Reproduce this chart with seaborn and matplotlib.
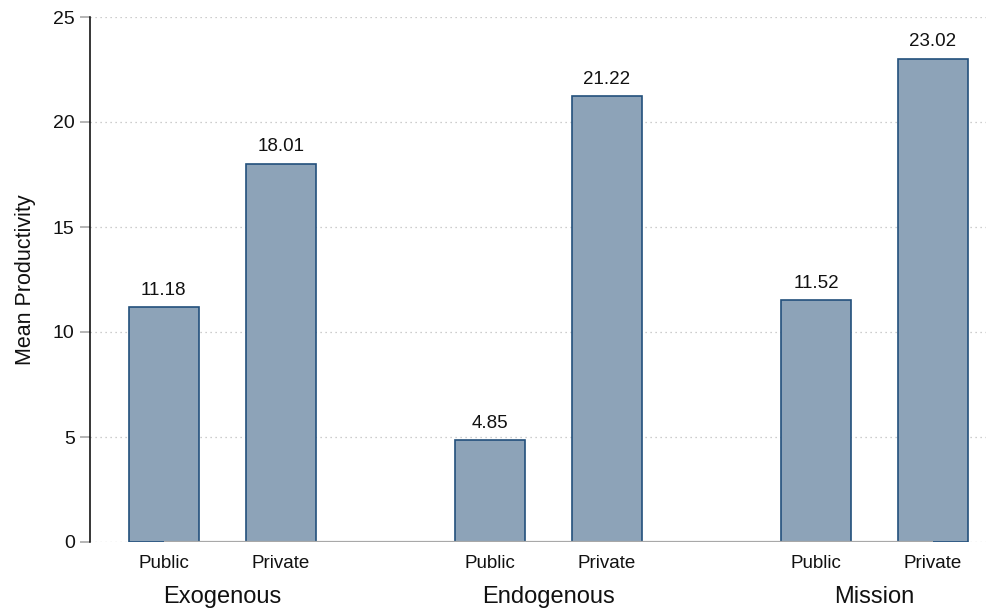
import matplotlib
matplotlib.use("Agg")
import matplotlib.pyplot as plt
import matplotlib.transforms as mtransforms
import seaborn as sns
import pandas as pd

groups = ["Exogenous", "Endogenous", "Mission"]
sectors = ["Public", "Private"]
public_vals = [11.18, 4.85, 11.52]
private_vals = [18.01, 21.22, 23.02]
yticks = [0, 5, 10, 15, 20, 25]

rows = []
for g, pu, pr in zip(groups, public_vals, private_vals):
    rows.append({"group": g, "sector": "Public", "value": pu})
    rows.append({"group": g, "sector": "Private", "value": pr})
df = pd.DataFrame(rows)

sns.set_theme(style="white")
plt.rcParams["font.family"] = ["Liberation Sans", "DejaVu Sans"]

fill = "#8da3b8"
edge = "#23507c"

fig = plt.figure(figsize=(9.87, 6.13), dpi=100)
ax = fig.add_axes([90 / 987, 1 - 542 / 613, 1 - 90 / 987, (542 - 17) / 613])

sns.barplot(data=df, x="group", y="value", hue="sector", order=groups,
            hue_order=sectors, palette=[fill, fill], width=0.718, gap=0.402,
            edgecolor=edge, linewidth=1.2, saturation=1, ax=ax, legend=False,
            errorbar=None, zorder=2)

for cont in ax.containers:
    ax.bar_label(cont, fmt="%.2f", padding=6, fontsize=13.5, color="#111111")

ax.set_ylim(0, 25)
ax.set_xlim(-0.406, 2.345)
ax.set_yticks(yticks)
ax.set_yticklabels([str(t) for t in yticks])
ax.grid(axis="y", linestyle=(0, (1, 3)), color="#bdbdbd", linewidth=0.9, zorder=0)
ax.grid(axis="x", visible=False)

for s in ["top", "right", "bottom"]:
    ax.spines[s].set_visible(False)
ax.spines["left"].set_color("black")
ax.spines["left"].set_linewidth(1.1)

ax.tick_params(axis="y", which="major", left=True, length=7, width=1.1,
               color="#a0a0a0", labelsize=14, pad=4, labelcolor="#111111")

# bar centers from the drawn patches
centers = sorted(p.get_x() + p.get_width() / 2 for p in ax.patches)
labels = sectors * len(groups)
ax.set_xticks(centers)
ax.set_xticklabels(labels, fontsize=13.5, color="#111111")
ax.tick_params(axis="x", length=0, pad=9)
ax.set_xlabel("")

# baseline from first to last bar center
ax.plot([centers[0], centers[-1]], [0, 0], color="#a8a8a8", linewidth=1.6,
        zorder=5, solid_capstyle="butt")

trans = mtransforms.blended_transform_factory(ax.transData, ax.transAxes)
for i, g in enumerate(groups):
    cx = (centers[2 * i] + centers[2 * i + 1]) / 2
    ax.text(cx, -0.105, g, transform=trans, ha="center", va="center",
            fontsize=17, color="#111111")

ax.set_ylabel("Mean Productivity", fontsize=15.5, color="#111111", labelpad=12)

fig.savefig("out.png", dpi=100)
